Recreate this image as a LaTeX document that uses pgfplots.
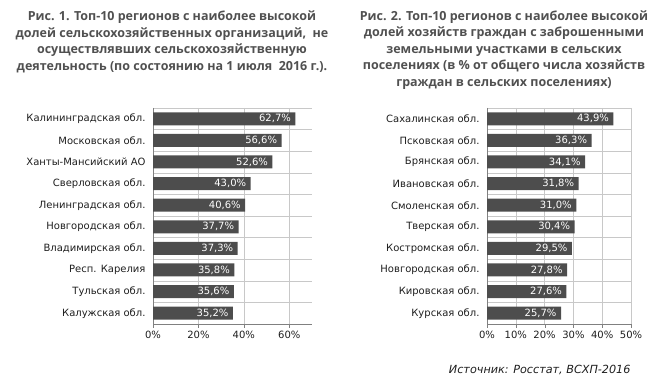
\documentclass[border=0pt]{standalone}
\usepackage{pgfplots}
\pgfplotsset{compat=1.18}
\usepackage{fontspec}
\setmainfont{DejaVu Sans}
\newfontfamily\titlefont{Open Sans}
\definecolor{barc}{HTML}{4D4D4D}
\definecolor{gridc}{HTML}{C8C8C8}
\definecolor{ttl}{HTML}{505050}
\definecolor{txt}{HTML}{1E1E1E}
\pgfplotsset{
  mybar/.style={
    scale only axis, xbar, bar width=13pt, y dir=reverse,
    ymin=-0.5, ymax=9.5, ytick={0,...,9}, minor ytick={-0.5,0.5,...,9.5},
    yminorgrids=true, xmajorgrids=true,
    grid style={gridc}, minor grid style={gridc},
    axis x line*=bottom, axis y line*=left, axis line style={-, draw=gray},
    ytick style={draw=none}, xtick style={draw=gray}, tick align=outside, major tick length=4pt,
    xmin=0, point meta=x,
    /pgf/number format/assume math mode=true,
    ticklabel style={font=\fontsize{10}{12}\selectfont, text=txt},
    xticklabel={\pgfmathprintnumber{\tick}\%},
    nodes near coords={\pgfmathprintnumber[fixed,fixed zerofill,precision=1,use comma]{\pgfplotspointmeta}\%},
    every node near coord/.append style={anchor=east, text=white, font=\fontsize{10}{12}\selectfont, xshift=-1pt},
  }
}
\begin{document}
\begin{tikzpicture}
\path[use as bounding box] (0,0) rectangle (658pt,387pt);
\begin{axis}[mybar, at={(153pt,63pt)}, anchor=south west, width=159pt, height=216pt,
  xmax=70, xtick={0,20,40,60},
  yticklabels={{Калининградская обл.},{Московская обл.},{Ханты-Мансийский АО},{Сверловская обл.},{Ленинградская обл.},{Новгородская обл.},{Владимирская обл.},{Респ. Карелия},{Тульская обл.},{Калужская обл.}}]
\addplot[fill=barc, draw=none] coordinates {(62.7,0) (56.6,1) (52.6,2) (43.0,3) (40.6,4) (37.7,5) (37.3,6) (35.8,7) (35.6,8) (35.2,9)};
\end{axis}
\begin{axis}[mybar, at={(487pt,63pt)}, anchor=south west, width=144pt, height=216pt,
  xmax=50, xtick={0,10,...,50},
  yticklabels={{Сахалинская обл.},{Псковская обл.},{Брянская обл.},{Ивановская обл.},{Смоленская обл.},{Тверская обл.},{Костромская обл.},{Новгородская обл.},{Кировская обл.},{Курская обл.}}]
\addplot[fill=barc, draw=none] coordinates {(43.9,0) (36.3,1) (34.1,2) (31.8,3) (31.0,4) (30.4,5) (29.5,6) (27.8,7) (27.6,8) (25.7,9)};
\end{axis}
\node[align=center, text=ttl, font=\titlefont\bfseries\fontsize{12.5}{16.7}\selectfont] at (172pt,345pt)
  {Рис. 1. Топ-10 регионов с наиболее высокой\\долей сельскохозяйственных организаций,~~не\\осуществлявших сельскохозяйственную\\деятельность (по состоянию на 1 июля~~2016 г.).};
\node[align=center, text=ttl, font=\titlefont\bfseries\fontsize{12.5}{16.5}\selectfont] at (504pt,337pt)
  {Рис. 2. Топ-10 регионов с наиболее высокой\\долей хозяйств граждан с заброшенными\\земельными участками в сельских\\поселениях (в \% от общего числа хозяйств\\граждан в сельских поселениях)};
\node[anchor=east, text=txt, font=\itshape\fontsize{11.2}{13}\selectfont] at (634pt,17pt) {Источник: Росстат, ВСХП-2016};
\end{tikzpicture}
\end{document}
